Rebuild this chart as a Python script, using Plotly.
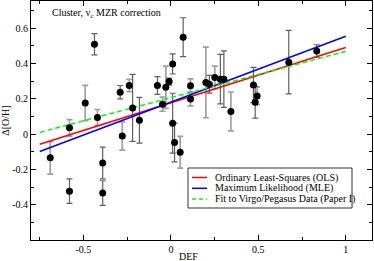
import plotly.graph_objects as go

# Data points (DEF, Delta[O/H], error) - two groups by error-bar shade
light_def = [-0.69, -0.58, -0.49, -0.42, -0.278, -0.238, -0.048, -0.029, 0.053, 0.112, 0.112, 0.20, 0.251, 0.343, 0.493]
light_doh = [-0.134, 0.036, 0.177, 0.095, -0.01, 0.276, 0.17, 0.266, -0.102, 0.274, 0.20, 0.293, 0.321, 0.129, 0.217]
light_err = [0.092, 0.047, 0.10, 0.045, 0.08, 0.035, 0.04, 0.12, 0.09, 0.04, 0.04, 0.20, 0.065, 0.11, 0.05]

dark_def = [-0.58, -0.437, -0.39, -0.39, -0.29, -0.219, -0.18, -0.077, -0.01, 0.01, 0.01, 0.021, 0.07, 0.22, 0.283, 0.303, 0.472, 0.482, 0.674, 0.834]
dark_doh = [-0.323, 0.51, -0.164, -0.334, 0.238, 0.149, 0.079, 0.276, 0.298, 0.398, 0.062, -0.047, 0.55, 0.283, 0.312, 0.312, 0.279, 0.181, 0.408, 0.472]
dark_err = [0.069, 0.06, 0.09, 0.07, 0.038, 0.19, 0.13, 0.05, 0.02, 0.057, 0.17, 0.11, 0.11, 0.05, 0.14, 0.16, 0.10, 0.09, 0.18, 0.035]

# Fit lines (endpoints at DEF = -0.75 and 1.0)
fit_x = [-0.75, 1.0]
ols_y = [-0.057, 0.491]
mle_y = [-0.098, 0.555]
virgo_y = [0.010, 0.470]

# Tick labels
x_tickvals = [-0.5, 0, 0.5, 1]
x_ticktext = ["-0.5", "0", "0.5", "1"]
y_tickvals = [-0.4, -0.2, 0, 0.2, 0.4, 0.6]
y_ticktext = ["-0.4", "-0.2", "0", "0.2", "0.4", "0.6"]

legend_labels = ["Ordinary Least-Squares (OLS)", "Maximum Likelihood (MLE)", "Fit to Virgo/Pegasus Data (Paper I)"]
legend_colors = ["#ff0000", "#0000ff", "#00ff00"]
legend_dash = ["solid", "solid", "dash"]

FONT = "Liberation Serif, Times New Roman, serif"

fig = go.Figure()

fig.add_trace(go.Scatter(
    x=light_def, y=light_doh, mode="markers",
    marker=dict(size=1, color="rgba(0,0,0,0)"),
    error_y=dict(type="data", array=light_err, color="#a0a0a0", thickness=1.7, width=3),
    showlegend=False, hoverinfo="skip"))
fig.add_trace(go.Scatter(
    x=dark_def, y=dark_doh, mode="markers",
    marker=dict(size=1, color="rgba(0,0,0,0)"),
    error_y=dict(type="data", array=dark_err, color="#606060", thickness=1.2, width=3),
    showlegend=False, hoverinfo="skip"))

fig.add_trace(go.Scatter(x=fit_x, y=ols_y, mode="lines",
                         line=dict(color=legend_colors[0], width=1.5), showlegend=False))
fig.add_trace(go.Scatter(x=fit_x, y=mle_y, mode="lines",
                         line=dict(color=legend_colors[1], width=1.5), showlegend=False))
fig.add_trace(go.Scatter(x=fit_x, y=virgo_y, mode="lines",
                         line=dict(color=legend_colors[2], width=1.5, dash="5px,3px"), showlegend=False))

fig.add_trace(go.Scatter(
    x=light_def + dark_def, y=light_doh + dark_doh, mode="markers",
    marker=dict(size=7, color="black"), showlegend=False))

# Manual legend box
L, R, T, B = 31, 372, 1, 240
def px(x):
    return (x - L) / (R - L)
def py(y):
    return (B - y) / (B - T)

shapes = [dict(type="rect", xref="paper", yref="paper",
               x0=px(188), x1=px(352), y0=py(208), y1=py(168),
               line=dict(color="#333333", width=1), fillcolor="white", layer="above")]
annotations = []
rows = [177.5, 188.3, 199.0]
for lab, col, dsh, ry in zip(legend_labels, legend_colors, legend_dash, rows):
    shapes.append(dict(type="line", xref="paper", yref="paper",
                       x0=px(192), x1=px(207), y0=py(ry), y1=py(ry),
                       line=dict(color=col, width=1.5, dash="4px,3px" if dsh == "dash" else "solid"),
                       layer="above"))
    annotations.append(dict(xref="paper", yref="paper", x=px(213), y=py(ry),
                            xanchor="left", yanchor="middle", showarrow=False,
                            text=lab, font=dict(family=FONT, size=10, color="black")))

annotations.append(dict(xref="paper", yref="paper", x=px(50), y=py(13.5),
                        xanchor="left", yanchor="middle", showarrow=False,
                        text="Cluster, v<sub>c</sub> MZR correction",
                        font=dict(family=FONT, size=10, color="black")))
annotations.append(dict(xref="paper", yref="paper", x=px(188), y=py(256.5),
                        xanchor="center", yanchor="middle", showarrow=False,
                        text="DEF", font=dict(family=FONT, size=10, color="black")))

fig.update_layout(
    width=374, height=261,
    margin=dict(l=L, r=374 - R, t=T, b=261 - B),
    paper_bgcolor="white", plot_bgcolor="white",
    font=dict(family=FONT, size=10, color="black"),
    shapes=shapes, annotations=annotations,
    xaxis=dict(range=[-0.8, 1.15], showgrid=False, zeroline=False,
               showline=True, linecolor="black", linewidth=1, mirror="allticks",
               ticks="inside", ticklen=5, tickcolor="black",
               tickmode="array", tickvals=x_tickvals, ticktext=x_ticktext,
               minor=dict(ticks="inside", ticklen=3, dtick=0.25, tick0=0, tickcolor="black"),
               tickfont=dict(family=FONT, size=10)),
    yaxis=dict(range=[-0.6, 0.755], showgrid=False, zeroline=False,
               showline=True, linecolor="black", linewidth=1, mirror="allticks",
               ticks="inside", ticklen=5, tickcolor="black",
               tickmode="array", tickvals=y_tickvals, ticktext=y_ticktext,
               minor=dict(ticks="inside", ticklen=3, dtick=0.1, tick0=0, tickcolor="black"),
               tickfont=dict(family=FONT, size=10),
               title=dict(text="Δ[O/H]", font=dict(family=FONT, size=10), standoff=4)),
)

fig.write_html("out.html", config={"displayModeBar": False},
               post_script="document.body.style.margin='0px';")
